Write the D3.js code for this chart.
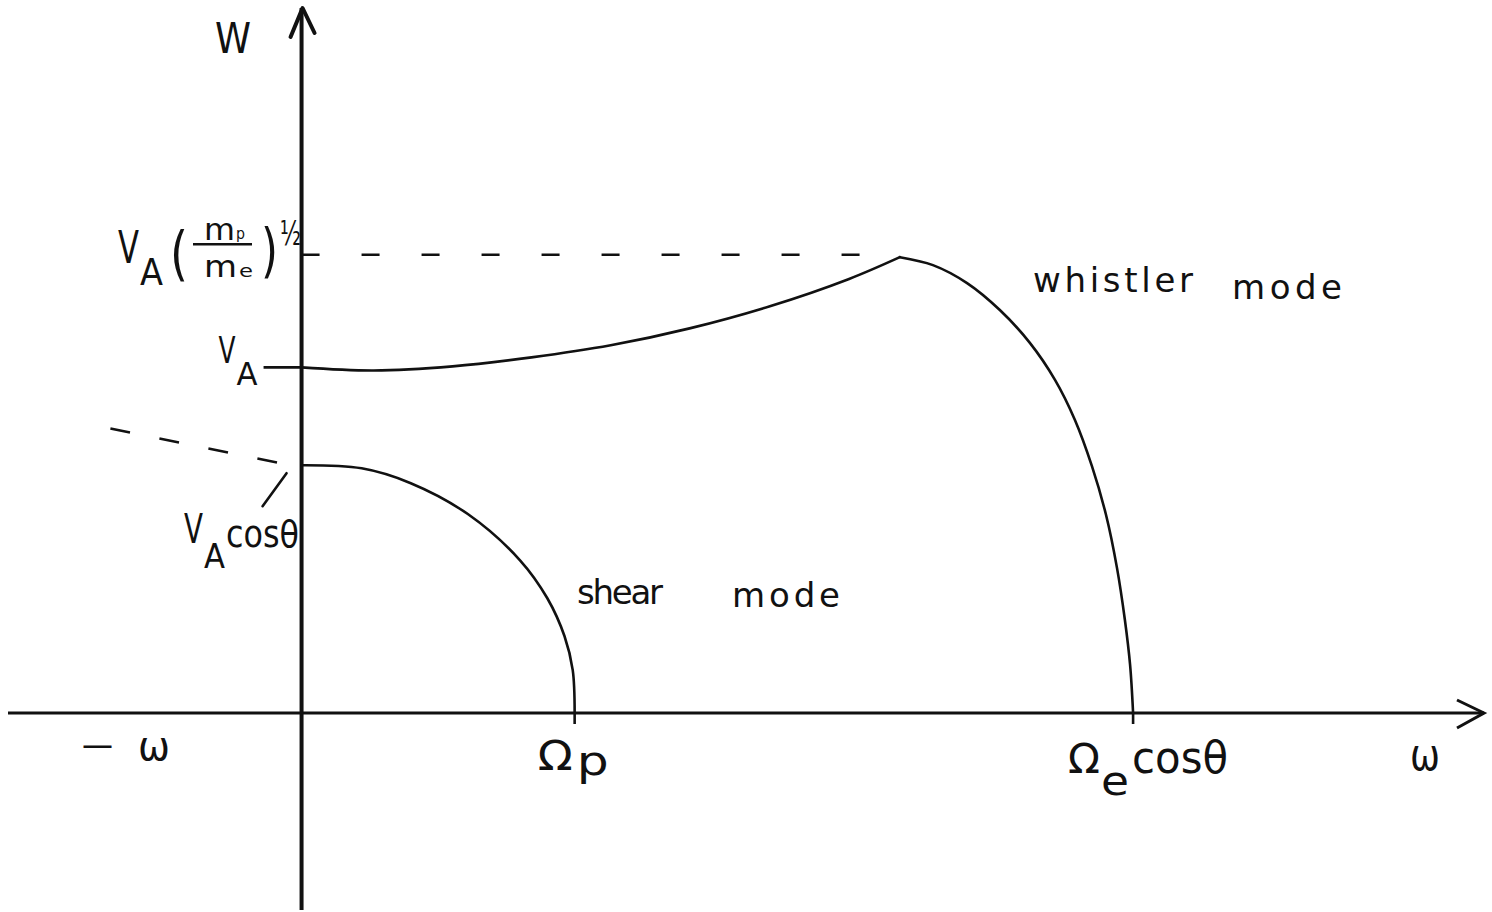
<!DOCTYPE html>
<html>
<head>
<meta charset="utf-8">
<script src="https://cdn.jsdelivr.net/npm/d3@7"></script>
<style>
  html, body { margin: 0; padding: 0; background: #fff; }
  svg { display: block; }
  text { font-family: "DejaVu Sans", "Liberation Sans", sans-serif; fill: #111; }
</style>
</head>
<body>
<svg id="chart" width="1492" height="912"></svg>
<script>
// Dispersion sketch: phase velocity W against frequency ω.
// ω is measured in units of the proton gyrofrequency Ω_p, W in units of V_A.

const omegaDomain = [-1.075, 4.33];
const wDomain = [-0.57, 2.04];

// whistler branch: rising part up to the maximum
const whistlerRiseOmega = [0.0, 0.264, 0.553, 0.842, 1.132, 1.421, 1.715, 2.005, 2.191];
const whistlerRiseW     = [1.0, 0.991, 1.003, 1.029, 1.064, 1.113, 1.177, 1.256, 1.319];

// whistler branch: falling part down to the cutoff Ω_e cosθ
const whistlerFallOmega = [2.191, 2.312, 2.437, 2.557, 2.667, 2.759, 2.832, 2.894, 2.946, 2.986, 3.015, 3.034, 3.045];
const whistlerFallW     = [1.319, 1.296, 1.244, 1.166, 1.071, 0.964, 0.848, 0.715, 0.573, 0.420, 0.269, 0.139, 0.0];

// shear (Alfvén) branch down to the cutoff Ω_p
const shearOmega = [0.0, 0.22, 0.40, 0.61, 0.80, 0.90, 0.963, 0.993, 1.0];
const shearW     = [0.717, 0.708, 0.665, 0.575, 0.442, 0.332, 0.222, 0.124, 0.0];

// continuation of the shear branch to negative ω (dashed)
const shearBackOmega = [-0.70, -0.04];
const shearBackW     = [0.823, 0.717];

// cutoff frequencies on the ω axis: Ω_p and Ω_e cosθ
const cutoffOmega = [1.0, 3.045];

// characteristic speeds on the W axis: V_A, V_A cosθ, V_A (m_p/m_e)^1/2
const levelW    = [1.0, 0.717, 1.326];
const peakOmega = 2.13;   // end of the dashed maximum-speed line

// branch names and axis names
const modeWords  = [["whistler", "mode"], ["shear", "mode"]];
const axisLabels = ["W", "ω", "—", "ω"];

const svg = d3.select("#chart");
const ink = "#111";

const x = d3.scaleLinear().domain(omegaDomain).range([8, 1484]);
const y = d3.scaleLinear().domain(wDomain).range([910, 8]);

const line = d3.line()
  .x(d => x(d[0]))
  .y(d => y(d[1]))
  .curve(d3.curveCatmullRom.alpha(0.5));

const zip = (a, b) => a.map((v, i) => [v, b[i]]);

// ---------- axes ----------
const x0 = x(0), y0 = y(0);
const xEnd = x(omegaDomain[1]), yTop = y(wDomain[1]);

// ω axis with open arrowhead
svg.append("line")
  .attr("x1", x(omegaDomain[0])).attr("x2", xEnd)
  .attr("y1", y0).attr("y2", y0)
  .attr("stroke", ink).attr("stroke-width", 3);
svg.append("path")
  .attr("d", `M${xEnd - 27},${y0 - 13} L${xEnd},${y0} L${xEnd - 27},${y0 + 15}`)
  .attr("fill", "none").attr("stroke", ink).attr("stroke-width", 3);

// W axis with arrowhead
svg.append("line")
  .attr("x1", x0).attr("x2", x0)
  .attr("y1", y(wDomain[0])).attr("y2", yTop)
  .attr("stroke", ink).attr("stroke-width", 4);
svg.append("path")
  .attr("d", `M${x0 - 11},${yTop + 29} L${x0 + 1},${yTop} L${x0 + 13},${yTop + 25}`)
  .attr("fill", "none").attr("stroke", ink).attr("stroke-width", 4)
  .attr("stroke-linejoin", "round").attr("stroke-linecap", "round");

// ---------- branches ----------
[zip(whistlerRiseOmega, whistlerRiseW),
 zip(whistlerFallOmega, whistlerFallW),
 zip(shearOmega, shearW)].forEach(pts => {
  svg.append("path")
    .attr("d", line(pts))
    .attr("fill", "none").attr("stroke", ink)
    .attr("stroke-width", 2.6).attr("stroke-linecap", "round");
});

// small ticks where the branches cross the ω axis
cutoffOmega.forEach(w => {
  svg.append("line")
    .attr("x1", x(w)).attr("x2", x(w))
    .attr("y1", y0).attr("y2", y0 + 11)
    .attr("stroke", ink).attr("stroke-width", 2.6);
});

// dashed continuation of the shear branch to negative ω
svg.append("path")
  .attr("d", d3.line().x(d => x(d[0])).y(d => y(d[1]))(zip(shearBackOmega, shearBackW)))
  .attr("fill", "none").attr("stroke", ink).attr("stroke-width", 2.6)
  .attr("stroke-dasharray", "20 30");

// dashed line at the maximum whistler speed
svg.append("line")
  .attr("x1", x0).attr("x2", x(peakOmega))
  .attr("y1", y(levelW[2])).attr("y2", y(levelW[2]))
  .attr("stroke", ink).attr("stroke-width", 2.6)
  .attr("stroke-dasharray", "18 42");

// V_A tick to the left of the W axis
svg.append("line")
  .attr("x1", x0 - 38).attr("x2", x0)
  .attr("y1", y(levelW[0])).attr("y2", y(levelW[0]))
  .attr("stroke", ink).attr("stroke-width", 2.6);

// pointer from the V_A cosθ label to its level
const yc = y(levelW[1]);
svg.append("line")
  .attr("x1", x0 - 39).attr("y1", yc + 41)
  .attr("x2", x0 - 15).attr("y2", yc + 8)
  .attr("stroke", ink).attr("stroke-width", 2.6).attr("stroke-linecap", "round");

// ---------- text ----------
// Glyph pieces are squeezed or stretched horizontally to the given width;
// whole words keep their glyphs and are spread out instead.
function glyph(txt, px, py, size, width) {
  const t = svg.append("text")
    .attr("font-size", size)
    .text(txt);
  const natural = t.node().getComputedTextLength();
  const sx = width ? width / natural : 1;
  t.attr("transform", `translate(${px},${py}) scale(${sx},1)`);
  return t;
}
function word(txt, px, py, size, width) {
  return svg.append("text")
    .attr("x", px).attr("y", py)
    .attr("font-size", size)
    .attr("textLength", width).attr("lengthAdjust", "spacing")
    .text(txt);
}

// axis names
glyph(axisLabels[0], 215, 53, 42, 36);
glyph(axisLabels[1], 1410, 770, 44, 30);
glyph(axisLabels[2], 82, 757, 36, 31);
glyph(axisLabels[3], 138, 760, 40, 32);

// V_A
const ya = y(levelW[0]);
glyph("V", x0 - 83, ya - 4, 38, 17);
glyph("A", x0 - 65, ya + 18, 32, 21);

// V_A (m_p / m_e)^1/2
const ym = y(levelW[2]);
glyph("V", 118, ym + 8.5, 44, 21);
glyph("A", 140, ym + 30.5, 38, 23);
glyph("(", 170, ym + 19, 58, 18);
glyph("m", 204, ym - 14.5, 30, 31);
glyph("p", 236, ym - 16, 16, 9);
svg.append("line")
  .attr("x1", 193).attr("x2", 252)
  .attr("y1", ym - 10.5).attr("y2", ym - 10.5)
  .attr("stroke", ink).attr("stroke-width", 2.6);
glyph("m", 204, ym + 22.5, 30, 33);
glyph("e", 239, ym + 22, 18, 14);
glyph(")", 261, ym + 16, 58, 17);
glyph("½", 280, ym - 9.5, 34, 21);

// V_A cosθ
glyph("V", 184, yc + 78, 40, 19);
glyph("A", 204, yc + 103, 34, 21);
glyph("cosθ", 226, yc + 82, 38, 73);

// cutoff labels under the ω axis
const xp = x(cutoffOmega[0]);
glyph("Ω", xp - 37, y0 + 57, 40, 35);
glyph("p", xp + 2, y0 + 62, 40, 32);

const xe = x(cutoffOmega[1]);
glyph("Ω", xe - 65, y0 + 60, 40, 32);
glyph("e", xe - 32, y0 + 82, 40, 28);
glyph("cosθ", xe - 1, y0 + 60, 44, 96);

// branch names
word(modeWords[0][0], 1033, 292, 34, 160);
word(modeWords[0][1], 1232, 299, 34, 110);
word(modeWords[1][0], 577, 604, 34, 86);
word(modeWords[1][1], 732, 607, 34, 108);
</script>
</body>
</html>
